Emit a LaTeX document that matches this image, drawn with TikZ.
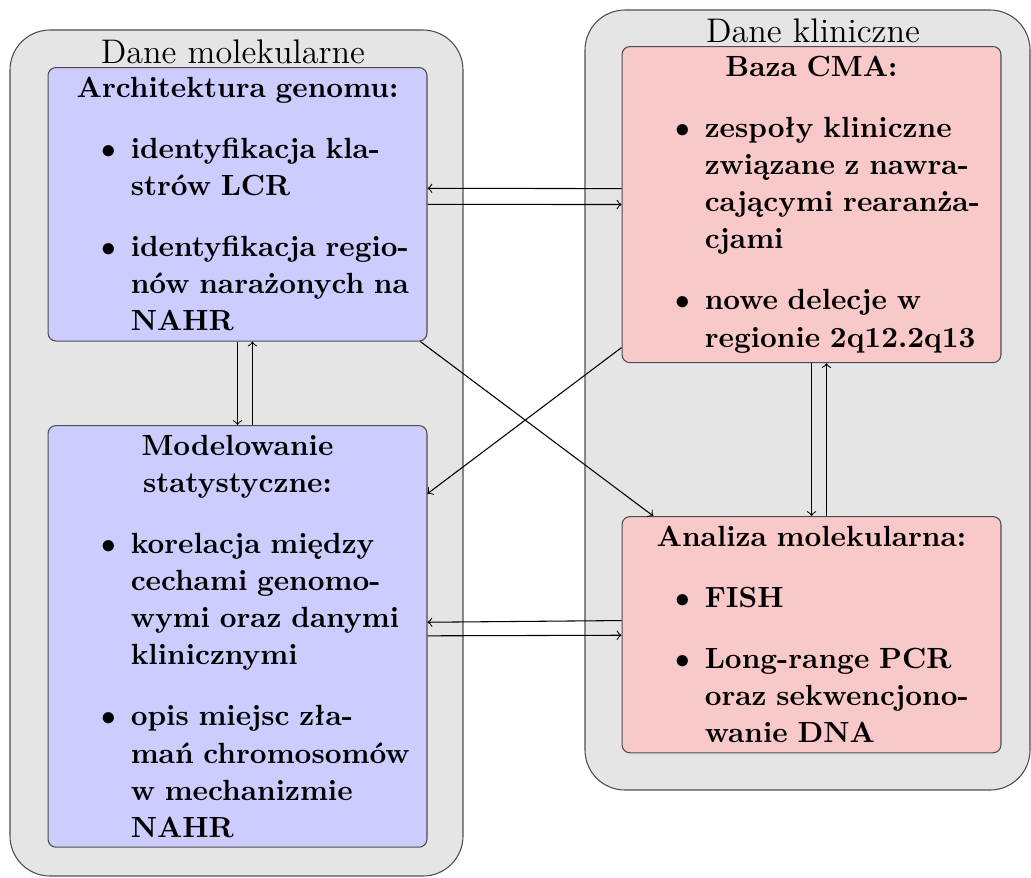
\documentclass[11pt,tikz,border=0pt]{standalone}
\usepackage{fontspec}
\usepackage{tikz}
\setlength{\partopsep}{0pt}
\renewcommand{\labelitemi}{$\bullet$}
\definecolor{molfill}{HTML}{CCCCFF}
\definecolor{klinfill}{HTML}{F9C8C8}
\definecolor{panelgray}{HTML}{E5E5E5}
\definecolor{edgegray}{HTML}{4D4D4D}
\tikzset{
  panel/.style={rounded corners=15pt,draw=edgegray,fill=panelgray},
  box/.style={rounded corners=3pt,draw=edgegray,font=\fontsize{10.95}{13.9}\selectfont\bfseries,text width=134.8pt,inner sep=3.65pt,anchor=north},
  molbox/.style={box,fill=molfill},
  klinbox/.style={box,fill=klinfill},
  ttl/.style={font=\fontsize{12.8}{15}\selectfont,anchor=base,inner sep=0pt},
  ar/.style={->,draw=black},
}

\begin{document}
\begin{tikzpicture}[x=0.375pt,y=-0.375pt]
    \useasboundingbox (0,0) rectangle (1031,877);
    % tla grup
    \draw[panel] (10,30) rectangle (463,876);
    \draw[panel] (585,10) rectangle (1030,790);
    \node[ttl] (molt) at (233,63) {Dane molekularne};
    \node[ttl] (klint) at (813,42) {Dane kliniczne};
    % dane molekularne
    \node[molbox] (arch) at (237.5,67) {{\centering Architektura genomu:\par}
      \begin{itemize}
        \item identyfikacja kla-\linebreak strów LCR
        \item identyfikacja regio-\linebreak nów narażonych na\linebreak NAHR
      \end{itemize}};
    \node[molbox] (model) at (237.5,425) {{\centering Modelowanie\\statystyczne:\par}
      \begin{itemize}
        \item korelacja między\linebreak cechami genomo-\linebreak wymi oraz danymi\linebreak klinicznymi
        \item opis miejsc zła-\linebreak mań chromosomów\linebreak w mechanizmie\linebreak NAHR
      \end{itemize}};
    % dane kliniczne
    \node[klinbox] (cma) at (811.5,46) {{\centering Baza CMA:\par}
      \begin{itemize}
        \item zespoły kliniczne\linebreak związane z nawra-\linebreak cającymi rearanża-\linebreak cjami
        \item nowe delecje w\linebreak regionie 2q12.2q13
      \end{itemize}};
    \node[klinbox] (lab) at (811.5,516) {{\centering Analiza molekularna:\par}
      \begin{itemize}
        \item FISH
        \item Long-range PCR\linebreak oraz sekwencjono-\linebreak wanie DNA
      \end{itemize}};
    \draw[ar](arch)--(cma);\draw[ar]([yshift=6pt]cma.west)--([yshift=6pt]arch.east);
    \draw[ar](arch)--(model);\draw[ar]([xshift=5.6pt]model.north)--([xshift=5.6pt]arch.south);
    \draw[ar](cma)--(lab);\draw[ar]([xshift=5.6pt]lab.north)--([xshift=5.6pt]cma.south);
    \draw[ar](model)--(lab);\draw[ar]([yshift=5.3pt]lab.west)--([yshift=5.3pt]model.east);
    \draw[ar](arch)--(lab);\draw[ar](cma)--(model);
  \end{tikzpicture}
\end{document}
